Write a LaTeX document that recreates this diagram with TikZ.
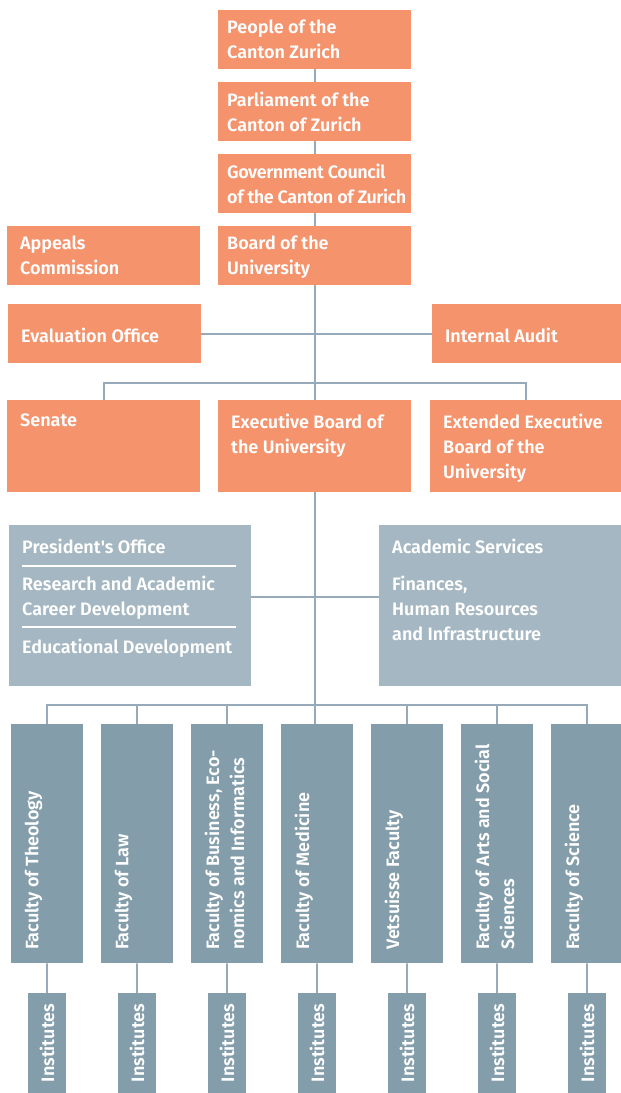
\documentclass[tikz,border=0pt]{standalone}
\usepackage{fontspec}
\setmainfont{Fira Sans}[BoldFont={Fira Sans SemiBold}]
\usetikzlibrary{positioning}
\definecolor{governing}{HTML}{F5936C}
\definecolor{staff}{HTML}{A4B7C2}
\definecolor{faculty}{HTML}{839DAA}
\definecolor{linkline}{HTML}{96AAB9}

\begin{document}
\begin{tikzpicture}[x=1pt, y=-1pt,
    orgunit/.style ={fill=governing, anchor=north west, inner sep=0pt, minimum width=193pt, minimum height=59pt},
    tallunit/.style ={orgunit, minimum height=92pt},
    staffunit/.style ={fill=staff, anchor=north west, inner sep=0pt, minimum width=242pt, minimum height=161pt},
    facultyunit/.style ={fill=faculty, anchor=north west, inner sep=0pt, minimum width=72pt, minimum height=239pt},
    institute/.style ={fill=faculty, rotate=90, inner sep=0pt, minimum width=100pt, minimum height=38pt, text=white, font=\bfseries\fontsize{18}{25}\selectfont},
    boxtext/.style ={anchor=north west, inner xsep=13pt, inner ysep=13.5pt, align=left, text=white, font=\bfseries\fontsize{18}{25}\selectfont},
    stacktext/.style ={boxtext, inner xsep=9pt, inner ysep=10pt},
    facultytext/.style ={boxtext, rotate=90, inner xsep=13.5pt},
    connector/.style ={draw=linkline, line width=1.8pt},
    divider/.style ={draw=white, line width=2pt}]
   \useasboundingbox (0,0) rectangle (621,1093);
   % governing bodies
   \node[orgunit] (people) at (218,10) [label={[stacktext]north west:{People of the\\Canton Zurich}}] {};
   \node[orgunit] (parliament) at (218,82) [label={[stacktext]north west:{Parliament of the\\Canton of Zurich}}] {};
   \node[orgunit] (government) at (218,154) [label={[stacktext, font=\bfseries\fontsize{18}{25}\selectfont\addfontfeature{LetterSpace=-2.5}]north west:{Government Council\\of the Canton of Zurich}}] {};
   \node[orgunit] (board) at (218,226) [label={[stacktext]north west:{Board of the\\University}}] {};
   \node[orgunit] (appeals) at (7,226) [label={[stacktext, inner xsep=13pt]north west:{Appeals\\Commission}}] {};
   \node[orgunit] (evaluation) at (8,304) [label={[boxtext, inner ysep=23.5pt]north west:{Evaluation Office}}] {};
   \node[orgunit, minimum width=189pt] (audit) at (432,304) [label={[boxtext, inner ysep=23.5pt]north west:{Internal Audit}}] {};
   \node[tallunit] (senate) at (7,400) [label={[boxtext]north west:{Senate}}] {};
   \node[tallunit] (execboard) at (218,400) [label={[boxtext]north west:{Executive Board of\\the University}}] {};
   \node[tallunit, minimum width=191pt] (extended) at (430,400) [label={[boxtext]north west:{Extended Executive\\Board of the\\University}}] {};
   % staff units
   \node[staffunit] (president) at (9,525) [label={[boxtext]north west:{President\textquotesingle s Office\\[12pt]Research and Academic\\Career Development\\[13pt]Educational Development}}] {};
   \node[staffunit] (services) at (379,525) [label={[boxtext]north west:{Academic Services\\[12pt]Finances,\\Human Resources\\and Infrastructure}}] {};
   \draw[divider] (president.north west) ++(13,41) -- ++(214,0);
   \draw[divider] (president.north west) ++(13,102) -- ++(214,0);
   \coordinate (sbus) at (314.5,383);
   \coordinate (pline) at (314.5,597);
   \coordinate (fbus) at (314.5,705);
   % faculties and institutes
   \foreach \name/\txt [count=\i from 0] in {theology/{Faculty of Theology}, law/{Faculty of Law},
         business/{Faculty of Business, Eco-\\nomics and Informatics}, medicine/{Faculty of Medicine},
         vetsuisse/{Vetsuisse Faculty}, arts/{Faculty of Arts and Social\\Sciences}, science/{Faculty of Science}} {
      \node[facultyunit] (\name) at (11+90*\i,724) [label={[facultytext]south west:{\txt}}] {};
      \node[institute] (\name-i) at (47+90*\i,1043) {Institutes};
      \draw[connector] (\name) -- (\name-i);
   }
   % connectors
   \draw[connector] (people) -- (parliament);
   \draw[connector] (parliament) -- (government);
   \draw[connector] (government) -- (board);
   \draw[connector] (board) -- (execboard);
   \draw[connector] (evaluation) -- (audit);
   \draw[connector] (senate.north) |- (sbus) -| (extended.north);
   \draw[connector] (president.east |- pline) -- (services.west |- pline);
   \draw[connector] (execboard) -- (execboard.south |- medicine.north);
   \draw[connector] (theology.north) |- (fbus) -| (science.north);
   \foreach \name in {law,business,vetsuisse,arts}
      \draw[connector] (\name.north) -- (\name.north |- fbus);
\end{tikzpicture}
\end{document}
